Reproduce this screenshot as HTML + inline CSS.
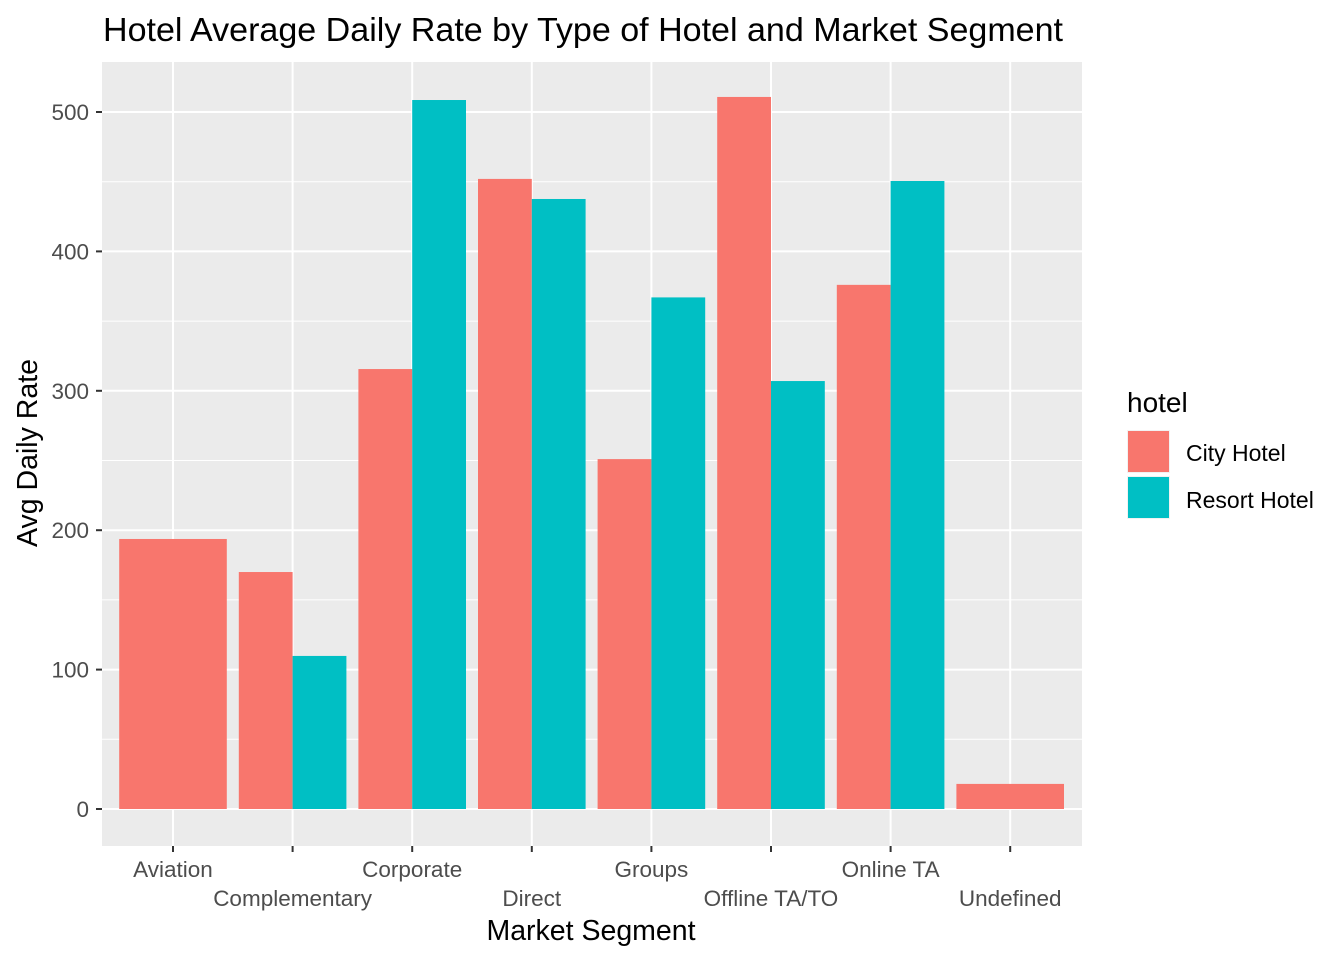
<!DOCTYPE html>
<html><head><meta charset="utf-8"><style>
body{margin:0;background:#fff;}
svg text{font-family:"Liberation Sans",Arial,sans-serif;}
</style></head><body>
<svg id="chart" width="1344" height="960">
<rect width="1344" height="960" fill="#fff"/>
<text x="103" y="41" font-size="33" textLength="960" lengthAdjust="spacingAndGlyphs" fill="#000">Hotel Average Daily Rate by Type of Hotel and Market Segment</text>
<rect x="102" y="62" width="980" height="784" fill="#ebebeb"/>
<g id="grid"></g><g id="bars"></g><g id="axes"></g>
<text x="591" y="940" font-size="28.5" text-anchor="middle">Market Segment</text>
<text transform="translate(37,453) rotate(-90)" font-size="28.5" text-anchor="middle">Avg Daily Rate</text>
<g>
<text x="1127" y="412" font-size="28">hotel</text>
<g><rect x="1127" y="430" width="43" height="43" fill="#f2f2f2"/><rect x="1128" y="431" width="41" height="41" fill="#F8766D"/><text x="1186" y="461" font-size="23" fill="#000">City Hotel</text></g>
<g><rect x="1127" y="476" width="43" height="43" fill="#f2f2f2"/><rect x="1128" y="477" width="41" height="41" fill="#00BFC4"/><text x="1186" y="508" font-size="23" fill="#000">Resort Hotel</text></g>
</g>
</svg>
<script>
const categories=["Aviation","Complementary","Corporate","Direct","Groups","Offline TA/TO","Online TA","Undefined"];
const cityValues=[193.7,170,315.6,452,251,510.8,376,18];
const resortValues=[null,109.8,508.6,437.6,367,307,450.5,null];
const yTicks=[0,100,200,300,400,500];
const NS="http://www.w3.org/2000/svg";
const x0=102,x1=1082,yTop=62,yBot=846;
const xc=i=>173+i*119.6;
const y=v=>809-v*1.394;
function mk(tag,attrs,parent){const e=document.createElementNS(NS,tag);for(const k in attrs)e.setAttribute(k,attrs[k]);document.getElementById(parent).appendChild(e);return e;}
for(let v=50;v<=550;v+=100){if(y(v)<yTop)continue;const l=mk('line',{x1:x0,x2:x1,y1:y(v),y2:y(v),stroke:'#fff','stroke-width':1},'grid');

}
yTicks.forEach(v=>{const l=mk('line',{x1:x0,x2:x1,y1:y(v),y2:y(v),stroke:'#fff','stroke-width':2},'grid');


const t=mk('text',{x:89,y:y(v)+8,'font-size':22.5,fill:'#4d4d4d','text-anchor':'end'},'axes');t.textContent=v;


const tk=mk('line',{x1:96,x2:102,y1:y(v),y2:y(v),stroke:'#333','stroke-width':2},'axes');

});
categories.forEach((c,i)=>{const l=mk('line',{x1:xc(i),x2:xc(i),y1:yTop,y2:yBot,stroke:'#fff','stroke-width':2},'grid');


const tk=mk('line',{x1:xc(i),x2:xc(i),y1:846,y2:852,stroke:'#333','stroke-width':2},'axes');


const t=mk('text',{x:xc(i),y:i%2?906:877,'font-size':22.5,fill:'#4d4d4d','text-anchor':'middle'},'axes');t.textContent=c;


const w=107.6,cv=cityValues[i],rv=resortValues[i];
if(rv==null){const r=mk('rect',{x:xc(i)-w/2,y:y(cv),width:w,height:y(0)-y(cv),fill:'#F8766D'},'bars');

}
else{const r=mk('rect',{x:xc(i)-w/2,y:y(cv),width:w/2,height:y(0)-y(cv),fill:'#F8766D'},'bars');


const r2=mk('rect',{x:xc(i),y:y(rv),width:w/2,height:y(0)-y(rv),fill:'#00BFC4'},'bars');

}
});
</script>
</body></html>
